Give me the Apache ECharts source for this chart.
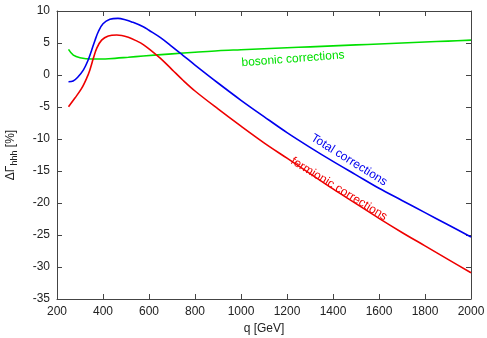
<!DOCTYPE html>
<html>
<head>
<meta charset="utf-8">
<script src="https://cdn.jsdelivr.net/npm/echarts@6/dist/echarts.min.js"></script>
<style>
html,body{margin:0;padding:0;background:#fff;}
#c{width:487px;height:338px;}
</style>
</head>
<body>
<div id="c"></div>
<script>
// q values [GeV]
var qTotal = [250, 270, 290, 315, 335, 350, 365, 380, 400, 430, 465, 500, 525, 575, 600, 650, 700, 750, 800, 900, 1000, 1100, 1200, 1300, 1400, 1500, 1600, 1700, 1800, 1900, 2000];
var total  = [-1.05, -0.95, -0.35, 0.8, 2.3, 3.8, 5.4, 6.8, 8.0, 8.7, 8.85, 8.6, 8.3, 7.55, 7.0, 5.85, 4.45, 3.0, 1.55, -1.25, -3.95, -6.5, -9.0, -11.3, -13.5, -15.6, -17.7, -19.6, -21.5, -23.4, -25.3];

var qFerm = [250, 278, 307, 329, 343, 358, 373, 394, 423, 460, 510, 550, 575, 600, 650, 700, 750, 800, 900, 1000, 1100, 1200, 1300, 1400, 1500, 1600, 1700, 1800, 1900, 2000];
var fermionic = [-4.95, -3.6, -2.1, -0.5, 0.8, 2.6, 4.2, 5.45, 6.1, 6.25, 5.9, 5.25, 4.75, 4.1, 2.6, 0.85, -0.9, -2.5, -5.3, -8.0, -10.6, -13.0, -15.4, -17.8, -20.1, -22.4, -24.6, -26.7, -28.8, -30.9];

var qBos = [250, 271, 300, 350, 425, 510, 575, 700, 800, 900, 1000, 1100, 1200, 1300, 1400, 1500, 1600, 1700, 1800, 1900, 2000];
var bosonic = [4.0, 3.1, 2.7, 2.5, 2.55, 2.77, 2.97, 3.3, 3.55, 3.8, 3.95, 4.1, 4.25, 4.4, 4.55, 4.7, 4.85, 5.0, 5.15, 5.3, 5.45];

var xTicks = {min: 200, max: 2000, interval: 200};
var yTicks = {min: -35, max: 10, interval: 5};

var labelTotal = 'Total corrections';
var labelFerm = 'fermionic corrections';
var labelBos = 'bosonic corrections';

function pairs(xs, ys) { return xs.map(function (x, i) { return [x, ys[i]]; }); }

var chart = echarts.init(document.getElementById('c'));
var font = 'Liberation Sans, Arial, Helvetica, sans-serif';
var axisCol = '#444';

var option = {
  animation: false,
  grid: {left: 57, right: 16, top: 11, bottom: 39, outerBoundsMode: 'none'},
  xAxis: [
    {type: 'value', min: xTicks.min, max: xTicks.max, interval: xTicks.interval,
     axisLine: {show: true, onZero: false, lineStyle: {color: axisCol}},
     axisTick: {show: true, inside: true, length: 5, lineStyle: {color: axisCol, width: 1}},
     axisLabel: {color: '#222', fontSize: 12, fontFamily: font, margin: 7,
                 formatter: function (v) { return String(v); }},
     splitLine: {show: false},
     name: 'q [GeV]', nameLocation: 'middle', nameGap: 20,
     nameTextStyle: {color: '#222', fontSize: 12, fontFamily: font}},
    {type: 'value', position: 'top', min: xTicks.min, max: xTicks.max, interval: xTicks.interval,
     axisLine: {show: true, onZero: false, lineStyle: {color: axisCol}},
     axisTick: {show: true, inside: true, length: 5, lineStyle: {color: axisCol, width: 1}},
     axisLabel: {color: 'rgba(0,0,0,0)'},
     splitLine: {show: false}}
  ],
  yAxis: [
    {type: 'value', min: yTicks.min, max: yTicks.max, interval: yTicks.interval,
     axisLine: {show: true, onZero: false, lineStyle: {color: axisCol}},
     axisTick: {show: true, inside: true, length: 5, lineStyle: {color: axisCol, width: 1}},
     axisLabel: {color: '#222', fontSize: 12, fontFamily: font, margin: 7},
     splitLine: {show: false},
     name: '{a|ΔΓ}{b|hhh}{a| [%]}', nameLocation: 'middle', nameGap: 38, nameRotate: 90,
     nameTextStyle: {
       color: '#222', fontFamily: font,
       rich: {
         a: {fontSize: 12, fontFamily: font, color: '#222', lineHeight: 16},
         b: {fontSize: 9, fontFamily: font, color: '#222', lineHeight: 16, padding: [7, 0, 0, 0]}
       }
     }},
    {type: 'value', position: 'right', min: yTicks.min, max: yTicks.max, interval: yTicks.interval,
     axisLine: {show: true, onZero: false, lineStyle: {color: axisCol}},
     axisTick: {show: true, inside: true, length: 5, lineStyle: {color: axisCol, width: 1}},
     axisLabel: {color: 'rgba(0,0,0,0)'},
     splitLine: {show: false}}
  ],
  series: [
    {name: 'bosonic', type: 'line', data: pairs(qBos, bosonic), smooth: 0.35, showSymbol: false,
     lineStyle: {color: '#00e000', width: 1.6}, itemStyle: {color: '#00e000'}},
    {name: 'fermionic', type: 'line', data: pairs(qFerm, fermionic), smooth: 0.35, showSymbol: false,
     lineStyle: {color: '#ee0000', width: 1.6}, itemStyle: {color: '#ee0000'}},
    {name: 'total', type: 'line', xAxisIndex: 1, yAxisIndex: 1, data: pairs(qTotal, total), smooth: 0.35, showSymbol: false,
     lineStyle: {color: '#0000ee', width: 1.6}, itemStyle: {color: '#0000ee'}}
  ],
  graphic: [
    {type: 'text', x: 293, y: 59, rotation: 4.5 * Math.PI / 180,
     style: {text: labelBos, fill: '#00e000', font: '12px ' + font, textAlign: 'center', textVerticalAlign: 'middle'}},
    {type: 'text', x: 349, y: 160, rotation: -32 * Math.PI / 180,
     style: {text: labelTotal, fill: '#0000ee', font: '12px ' + font, textAlign: 'center', textVerticalAlign: 'middle'}},
    {type: 'text', x: 339, y: 189, rotation: -31.5 * Math.PI / 180,
     style: {text: labelFerm, fill: '#ee0000', font: '12px ' + font, textAlign: 'center', textVerticalAlign: 'middle'}}
  ]
};
chart.setOption(option);
</script>
</body>
</html>
